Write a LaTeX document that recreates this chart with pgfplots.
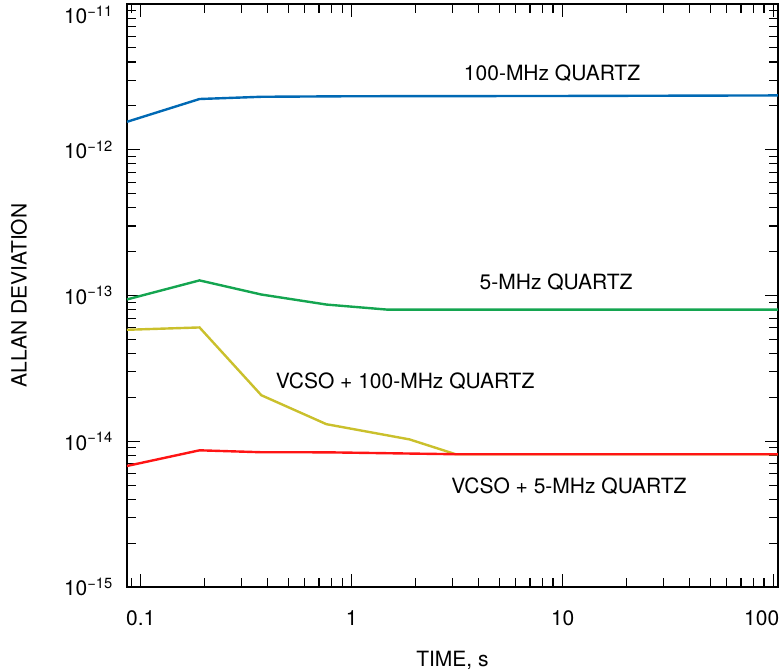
\documentclass[border=0pt]{standalone}
\usepackage{pgfplots}
\pgfplotsset{compat=1.18}
\usepackage{fontspec}
\setmainfont{TeX Gyre Heros}

\definecolor{qblue}{RGB}{0,105,180}
\definecolor{qgreen}{RGB}{20,165,80}
\definecolor{qolive}{RGB}{202,192,44}
\definecolor{qred}{RGB}{255,20,20}

\begin{document}
\fontsize{21}{25}\selectfont
\begin{tikzpicture}
\path[use as bounding box] (-127pt,-85pt) rectangle (653pt,587pt);
\begin{axis}[
    scale only axis,
    width=651pt, height=583pt,
    xmode=log, ymode=log,
    xmin=0.0861, xmax=104.8,
    ymin=1e-15, ymax=1e-11,
    axis line style={line width=1.6pt},
    tick style={line width=1.1pt, black},
    tick align=inside,
    major tick length=13pt,
    minor tick length=9pt,
    xtick={0.1,1,10},
    xticklabels={0.1,1,10},
    extra x ticks={100},
    extra x tick labels={100},
    extra x tick style={xticklabel style={xshift=-12pt}},
    minor xtick={0.09,0.2,0.3,0.4,0.5,0.6,0.7,0.8,0.9,2,3,4,5,6,7,8,9,20,30,40,50,60,70,80,90},
    ytick={1e-15,1e-14,1e-13,1e-12},
    yticklabels={10\textsuperscript{−15},10\textsuperscript{−14},10\textsuperscript{−13},10\textsuperscript{−12}},
    extra y ticks={1e-11},
    extra y tick labels={10\textsuperscript{−11}},
    extra y tick style={yticklabel style={yshift=-11pt}},
    minor ytick={2e-15,3e-15,4e-15,5e-15,6e-15,7e-15,8e-15,9e-15,
                 2e-14,3e-14,4e-14,5e-14,6e-14,7e-14,8e-14,9e-14,
                 2e-13,3e-13,4e-13,5e-13,6e-13,7e-13,8e-13,9e-13,
                 2e-12,3e-12,4e-12,5e-12,6e-12,7e-12,8e-12,9e-12},
    xticklabel style={anchor=center, yshift=-31pt},
    yticklabel style={anchor=east, xshift=-7pt},
    xlabel={TIME, s},
    ylabel={ALLAN DEVIATION},
    xlabel style={at={(axis description cs:0.5,-0.125)}, anchor=center},
    ylabel style={at={(axis description cs:-0.166,0.5)}, anchor=center, rotate=0},
    clip=true,
]
% 100-MHz quartz
\addplot[qblue, line width=2.4pt] coordinates {
    (0.0861,1.556e-12) (0.19,2.23e-12) (0.373,2.31e-12) (1,2.33e-12) (10,2.34e-12) (104.8,2.36e-12)
};
% 5-MHz quartz
\addplot[qgreen, line width=2.4pt] coordinates {
    (0.0861,9.4e-14) (0.19,1.27e-13) (0.373,1.016e-13) (0.76,8.67e-14) (1.48,8.0e-14) (10,8.0e-14) (104.8,8.0e-14)
};
% VCSO + 100-MHz quartz
\addplot[qolive, line width=2.4pt] coordinates {
    (0.0861,5.82e-14) (0.19,6.04e-14) (0.373,2.07e-14) (0.759,1.31e-14) (1.88,1.03e-14) (3.11,8.15e-15) (104.8,8.15e-15)
};
% VCSO + 5-MHz quartz
\addplot[qred, line width=2.4pt] coordinates {
    (0.0861,6.77e-15) (0.19,8.67e-15) (0.373,8.41e-15) (0.76,8.4e-15) (3.1,8.15e-15) (104.8,8.15e-15)
};
\node at (axis cs:8.9,3.37e-12) {100-MHz QUARTZ};
\node at (axis cs:9.3,1.23e-13) {5-MHz QUARTZ};
\node at (axis cs:1.79,2.59e-14) {VCSO + 100-MHz QUARTZ};
\node at (axis cs:10.7,4.94e-15) {VCSO + 5-MHz QUARTZ};
\end{axis}
\end{tikzpicture}
\end{document}
